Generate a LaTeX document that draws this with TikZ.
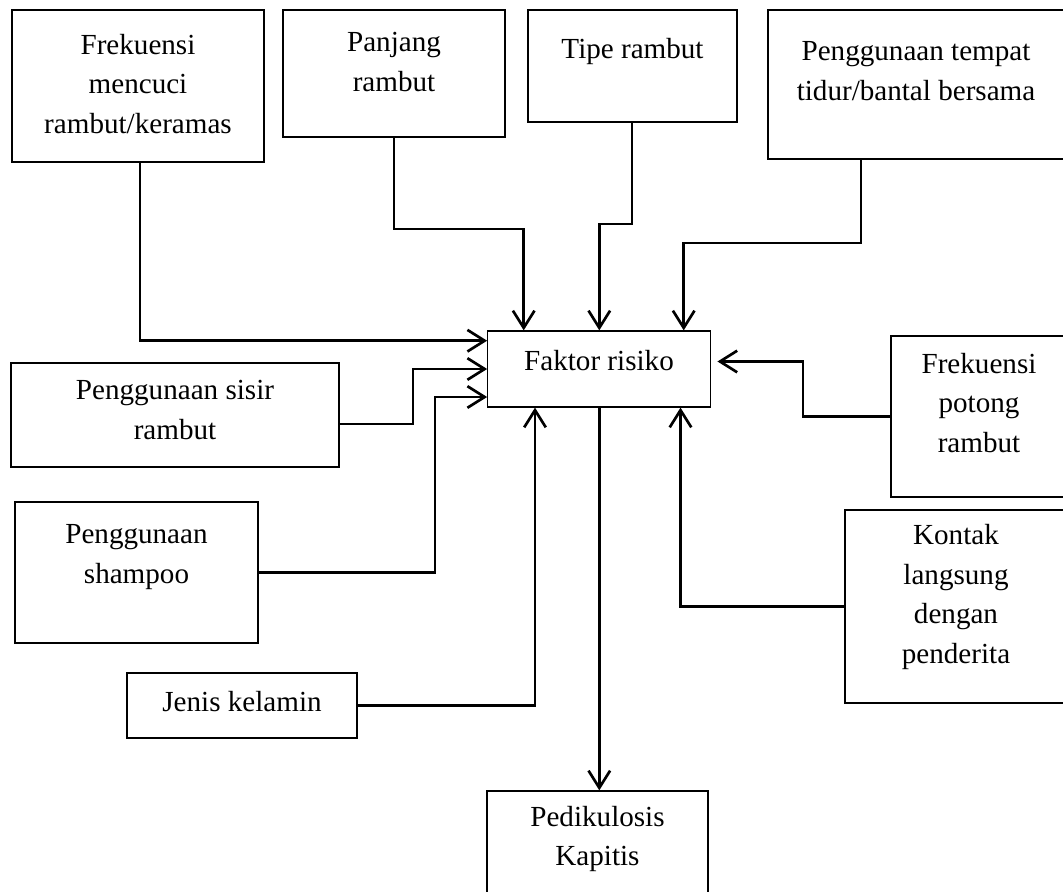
\documentclass[tikz,border=0pt]{standalone}
\usepackage{fontspec}
\setmainfont{Liberation Serif}
\usetikzlibrary{arrows.meta, positioning}

\begin{document}
\begin{tikzpicture}[
    x=0.025cm, y=-0.025cm,
    box/.style={
        rectangle,
        draw=black,
        line width=0.9pt,
        inner sep=0pt
    },
    txt/.style={
        align=center,
        inner sep=0pt,
        font=\fontsize{20.7}{28.1}\selectfont
    },
    arrow/.style={
        -{Straight Barb[length=4.3mm, width=5.4mm]},
        line width=1.9pt
    }
]

% Canvas (the boxes on the right and bottom run off the page)
\useasboundingbox (0,0) rectangle (1063,892);
\clip (0,0) rectangle (1063,892);

% Factor boxes
\node[box, minimum width=6.3cm, minimum height=3.8cm] (cuci) at (138,86) {};
\node[box, minimum width=5.55cm, minimum height=3.175cm] (panjang) at (394,73.5) {};
\node[box, minimum width=5.225cm, minimum height=2.8cm] (tipe) at (632.5,66) {};
\node[box, minimum width=7.4cm, minimum height=3.725cm] (tempat) at (916,84.5) {};
\node[box, minimum width=8.2cm, minimum height=2.6cm] (sisir) at (175,415) {};
\node[box, minimum width=4.4cm, minimum height=4.025cm] (potong) at (979,416.5) {};
\node[box, minimum width=6.075cm, minimum height=3.525cm] (shampoo) at (136.5,572.5) {};
\node[box, minimum width=5.55cm, minimum height=4.825cm] (kontak) at (956,606.5) {};
\node[box, minimum width=5.75cm, minimum height=1.625cm] (kelamin) at (242,705.5) {};

% Center and outcome
\node[box, minimum width=5.575cm, minimum height=1.9cm] (faktor) at (599.3,369) {};
\node[box, minimum width=5.525cm, minimum height=3.75cm] (pedikulosis) at (597.5,866) {};

% Texts
\node[txt] (cucitext) at (138,84) {Frekuensi\\mencuci\\rambut/keramas};
\node[txt] (panjangtext) at (394,62) {Panjang\\rambut};
\node[txt] (tipetext) at (632.5,52) {Tipe rambut};
\node[txt] (tempattext) at (916,71) {Penggunaan tempat\\tidur/bantal bersama};
\node[txt] (sisirtext) at (175,410) {Penggunaan sisir\\rambut};
\node[txt] (potongtext) at (979,403) {Frekuensi\\potong\\rambut};
\node[txt] (shampootext) at (136.5,557) {Penggunaan\\shampoo};
\node[txt] (kontaktext) at (956,597) {Kontak\\langsung\\dengan\\penderita};
\node[txt] (kelamintext) at (242,702) {Jenis kelamin};
\node[txt] (faktortext) at (599,361) {Faktor risiko};
\node[txt] (pedikulosistext) at (597.5,839) {Pedikulosis\\Kapitis};

% Connections
\draw[arrow] (cuci.south -| 140,0) |- (faktor.west |- 0,340.7);
\draw[arrow] (panjang.south) -- (394,229) -| (faktor.north -| 523.7,0);
\draw[arrow] (tipe.south -| 632,0) -- (632,224) -| (faktor.north);
\draw[arrow] (tempat.south -| 861,0) -- (861,243) -| (faktor.north -| 683.7,0);
\draw[arrow] (sisir.east |- 0,424) -- (413,424) |- (faktor.west |- 0,369);
\draw[arrow] (shampoo.east) -- (435,572.5) |- (faktor.west |- 0,397);
\draw[arrow] (potong.west) -- (803,416.5) |- ([xshift=0.15cm]faktor.east |- 0,361.5);
\draw[arrow] (kontak.west) -| (faktor.south -| 680.5,0);
\draw[arrow] (kelamin.east) -| (faktor.south -| 535,0);
\draw[arrow] (faktor.south) -- (faktor.south |- pedikulosis.north);

\end{tikzpicture}
\end{document}
